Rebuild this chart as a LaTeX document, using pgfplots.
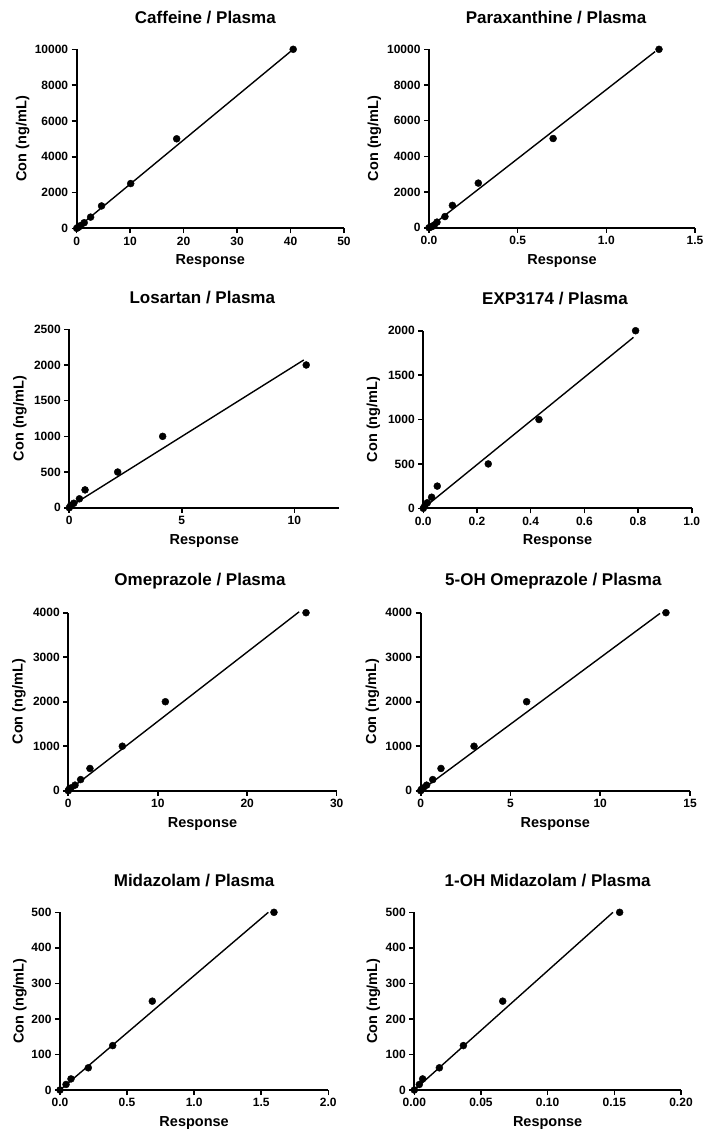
\documentclass[border=0pt]{standalone}
\usepackage{fontspec}
\setmainfont{Liberation Sans}
\usepackage{pgfplots}
\pgfplotsset{compat=1.18}

\pgfplotsset{
  prism/.style={
    scale only axis,
    axis x line*=bottom, axis y line*=left,
    axis line style={line width=2pt, black},
    tick align=outside, major tick length=5pt,
    tick style={line width=1.6pt, black},
    xmin=0, ymin=0, clip=false, scaled ticks=false,
    /pgf/number format/1000 sep={},
    /pgf/number format/assume math mode=true,
    tick label style={font=\bfseries\fontsize{12}{12}\selectfont},
    xlabel={Response}, ylabel={Con (ng/mL)},
    label style={font=\bfseries\fontsize{14.5}{14.5}\selectfont},
    xlabel style={at={(axis description cs:0.5,0)}, anchor=center, yshift=-33pt},
    title style={font=\bfseries\fontsize{17}{17}\selectfont, anchor=center},
  },
  ylab/.style={ylabel style={at={([xshift=-#1pt]axis description cs:0,0.5)}, anchor=center, rotate=0}},
  ttl/.style={title style={at={([xshift=#1pt, yshift=26pt]axis description cs:0.5,1)}}},
  pts/.style={only marks, mark=*, mark size=3.5pt, black},
  fit/.style={no marks, black, line width=1.4pt},
  dec1/.style={xticklabel style={/pgf/number format/.cd, fixed, fixed zerofill, precision=1}},
  dec2/.style={xticklabel style={/pgf/number format/.cd, fixed, fixed zerofill, precision=2}},
}

\begin{document}
\begin{tikzpicture}
\path[use as bounding box] (0,0) rectangle (707pt,-1133pt);

% Caffeine
\begin{axis}[prism, at={(76.7pt,-228.3pt)}, anchor=south west, width=267.3pt, height=179pt,
  xmax=50, ymax=10000, xtick={0,10,...,50}, ytick={0,2000,...,10000},
  title={Caffeine / Plasma}, ttl=-5, ylab=54]
\addplot[fit] coordinates {(0,0) (40.5,10000)};
\addplot[pts] coordinates {(0,0) (0.2,39) (0.4,78) (0.75,156) (1.4,312.5) (2.6,625)
  (4.65,1250) (10.1,2500) (18.7,5000) (40.5,10000)};
\end{axis}

% Paraxanthine
\begin{axis}[prism, dec1, at={(429pt,-227.7pt)}, anchor=south west, width=266pt, height=178.4pt,
  xmax=1.5, ymax=10000, xtick={0,0.5,1,1.5}, ytick={0,2000,...,10000},
  title={Paraxanthine / Plasma}, ttl=-6, ylab=54.5]
\addplot[fit] coordinates {(0,0) (1.275,9870)};
\addplot[pts] coordinates {(0,0) (0.01,39) (0.02,78) (0.03,156) (0.045,312.5) (0.09,625)
  (0.132,1250) (0.278,2500) (0.70,5000) (1.297,10000)};
\end{axis}

% Losartan
\begin{axis}[prism, at={(69.3pt,-507.7pt)}, anchor=south west, width=270pt, height=178.4pt,
  xmax=12, ymax=2500, xtick={0,5,10}, ytick={0,500,...,2500},
  title={Losartan / Plasma}, ttl=-2, ylab=49.5]
\addplot[fit] coordinates {(0,10) (10.42,2070)};
\addplot[pts] coordinates {(0,0) (0.06,31) (0.2,62.5) (0.45,125) (0.70,250) (2.15,500)
  (4.15,1000) (10.53,2000)};
\end{axis}

% EXP3174
\begin{axis}[prism, dec1, at={(423.3pt,-508.3pt)}, anchor=south west, width=268.4pt, height=177.6pt,
  xmax=1, ymax=2000, xtick={0,0.2,...,1.0}, ytick={0,500,...,2000},
  title={EXP3174 / Plasma}, ttl=-2.5, ylab=50]
\addplot[fit] coordinates {(0,0) (0.783,1925)};
\addplot[pts] coordinates {(0,0) (0.006,31) (0.015,62.5) (0.031,125) (0.052,250) (0.242,500)
  (0.431,1000) (0.791,2000)};
\end{axis}

% Omeprazole
\begin{axis}[prism, at={(68.3pt,-790.7pt)}, anchor=south west, width=268.4pt, height=178pt,
  xmax=30, ymax=4000, xtick={0,10,20,30}, ytick={0,1000,...,4000},
  title={Omeprazole / Plasma}, ttl=-2.5, ylab=49.5]
\addplot[fit] coordinates {(0,0) (25.8,4020)};
\addplot[pts] coordinates {(0,0) (0.07,31) (0.3,62.5) (0.75,125) (1.38,250) (2.42,500)
  (6.04,1000) (10.85,2000) (26.57,4000)};
\end{axis}

% 5-OH Omeprazole
\begin{axis}[prism, at={(420.7pt,-790.7pt)}, anchor=south west, width=269.3pt, height=178pt,
  xmax=15, ymax=4000, xtick={0,5,10,15}, ytick={0,1000,...,4000},
  title={5-OH Omeprazole / Plasma}, ttl=-2, ylab=48.4]
\addplot[fit] coordinates {(0,0) (13.33,3985)};
\addplot[pts] coordinates {(0,0) (0.04,31) (0.15,62.5) (0.33,125) (0.67,250) (1.13,500)
  (2.97,1000) (5.90,2000) (13.66,4000)};
\end{axis}

% Midazolam
\begin{axis}[prism, dec1, at={(60pt,-1090pt)}, anchor=south west, width=268.3pt, height=177.7pt,
  xmax=2, ymax=500, xtick={0,0.5,1,1.5,2}, ytick={0,100,...,500},
  title={Midazolam / Plasma}, ttl=0, ylab=40]
\addplot[fit] coordinates {(0,0) (1.553,500)};
\addplot[pts] coordinates {(0,0) (0.045,15.6) (0.082,31.25) (0.211,62.5) (0.393,125)
  (0.688,250) (1.595,500)};
\end{axis}

% 1-OH Midazolam
\begin{axis}[prism, dec2, at={(414.3pt,-1090pt)}, anchor=south west, width=266.7pt, height=177.7pt,
  xmax=0.2, ymax=500, xtick={0,0.05,0.1,0.15,0.2}, ytick={0,100,...,500},
  title={1-OH Midazolam / Plasma}, ttl=0, ylab=41]
\addplot[fit] coordinates {(0,0) (0.149,500)};
\addplot[pts] coordinates {(0,0) (0.00375,15.6) (0.00625,31.25) (0.0188,62.5) (0.0368,125)
  (0.0663,250) (0.154,500)};
\end{axis}

\end{tikzpicture}
\end{document}
